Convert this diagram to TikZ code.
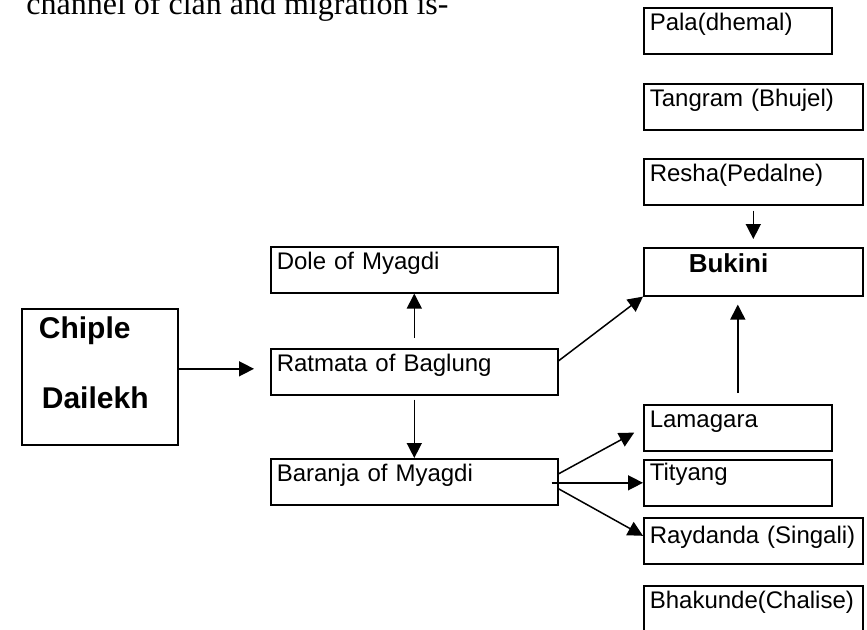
\documentclass[tikz,border=0pt]{standalone}
\usepackage{fontspec}
\setmainfont{Liberation Sans}
\newfontfamily\headfont{Liberation Serif}
\usetikzlibrary{arrows.meta}
\tikzset{
	place/.style={draw,line width=.8pt,anchor=north west,inner xsep=3pt,inner ysep=0pt,
		align=left,text width=#1,text height=11.5pt,text depth=11.5pt,
		font=\fontsize{12}{14}\selectfont},
	arr/.style={-{Triangle[length=7.5pt,width=7.5pt]},line width=.75pt},
	bigword/.style={anchor=base west,inner sep=0pt,font=\bfseries\fontsize{15}{18}\selectfont},
}
\begin{document}
\begin{tikzpicture}[x=.5pt,y=-.5pt]
	\useasboundingbox (0,0) rectangle (867,629);
	\node[anchor=base west,inner sep=0pt,font=\headfont\fontsize{16}{20}\selectfont] (head) at (26,14) {channel of clan and migration is-};
	% cot trai
	\node[draw,line width=.8pt,anchor=north west,minimum width=78pt,minimum height=68pt,inner sep=0pt] (chiple) at (21,308) {};
	\node[bigword] (chipleA) at (38.5,338) {Chiple};
	\node[bigword] (chipleB) at (41.5,408) {Dailekh};
	% cot giua
	\node[place=137.5pt] (dole) at (270,246) {Dole of Myagdi};
	\node[place=137.5pt] (ratmata) at (270,348) {Ratmata of Baglung};
	\node[place=137.5pt] (baranja) at (270,458) {Baranja of Myagdi};
	% cot phai
	\node[place=88pt] (pala) at (643,7) {Pala(dhemal)};
	\node[place=103.5pt] (tangram) at (643,83) {Tangram (Bhujel)};
	\node[place=103.5pt] (resha) at (643,158) {Resha(Pedalne)};
	\node[place=103.5pt,text height=12.5pt,text depth=11.5pt,font=\bfseries\fontsize{13}{15}\selectfont] (bukini) at (643,247) {\hspace*{19.5pt}Bukini};
	\node[place=88pt] (lamagara) at (643,404) {Lamagara};
	\node[place=88pt,text height=10.5pt,text depth=12.5pt] (tityang) at (643,459) {Tityang};
	\node[place=103.5pt,text height=13pt,text depth=10pt] (raydanda) at (643,517) {Raydanda (Singali)};
	\node[place=103.5pt] (bhakunde) at (643,585) {Bhakunde(Chalise)};
	% mui ten
	\draw[arr,shorten >=8pt] ([yshift=4pt]chiple.east) -- ([yshift=4pt]chiple.east -| ratmata.west);
	\draw[arr,shorten <=5pt] (ratmata.north) -- (dole.south);
	\draw[arr,shorten <=2pt] (ratmata.south) -- (baranja.north);
	\draw[arr] ([yshift=5.5pt]ratmata.east) -- (bukini.south west);
	\draw[arr,shorten <=2.5pt,shorten >=4pt] (resha.south) -- (bukini.north);
	\draw[arr,shorten <=5.5pt,shorten >=4pt] (lamagara.north) -- (lamagara.north |- bukini.south);
	\draw[arr,shorten >=5pt] ([yshift=4pt]baranja.east) -- (lamagara.west);
	\draw[arr] ([xshift=-3.5pt]baranja.east |- tityang.west) -- (tityang.west);
	\draw[arr] ([yshift=-3.5pt]baranja.east) -- ([yshift=2.5pt]raydanda.west);
\end{tikzpicture}
\end{document}
